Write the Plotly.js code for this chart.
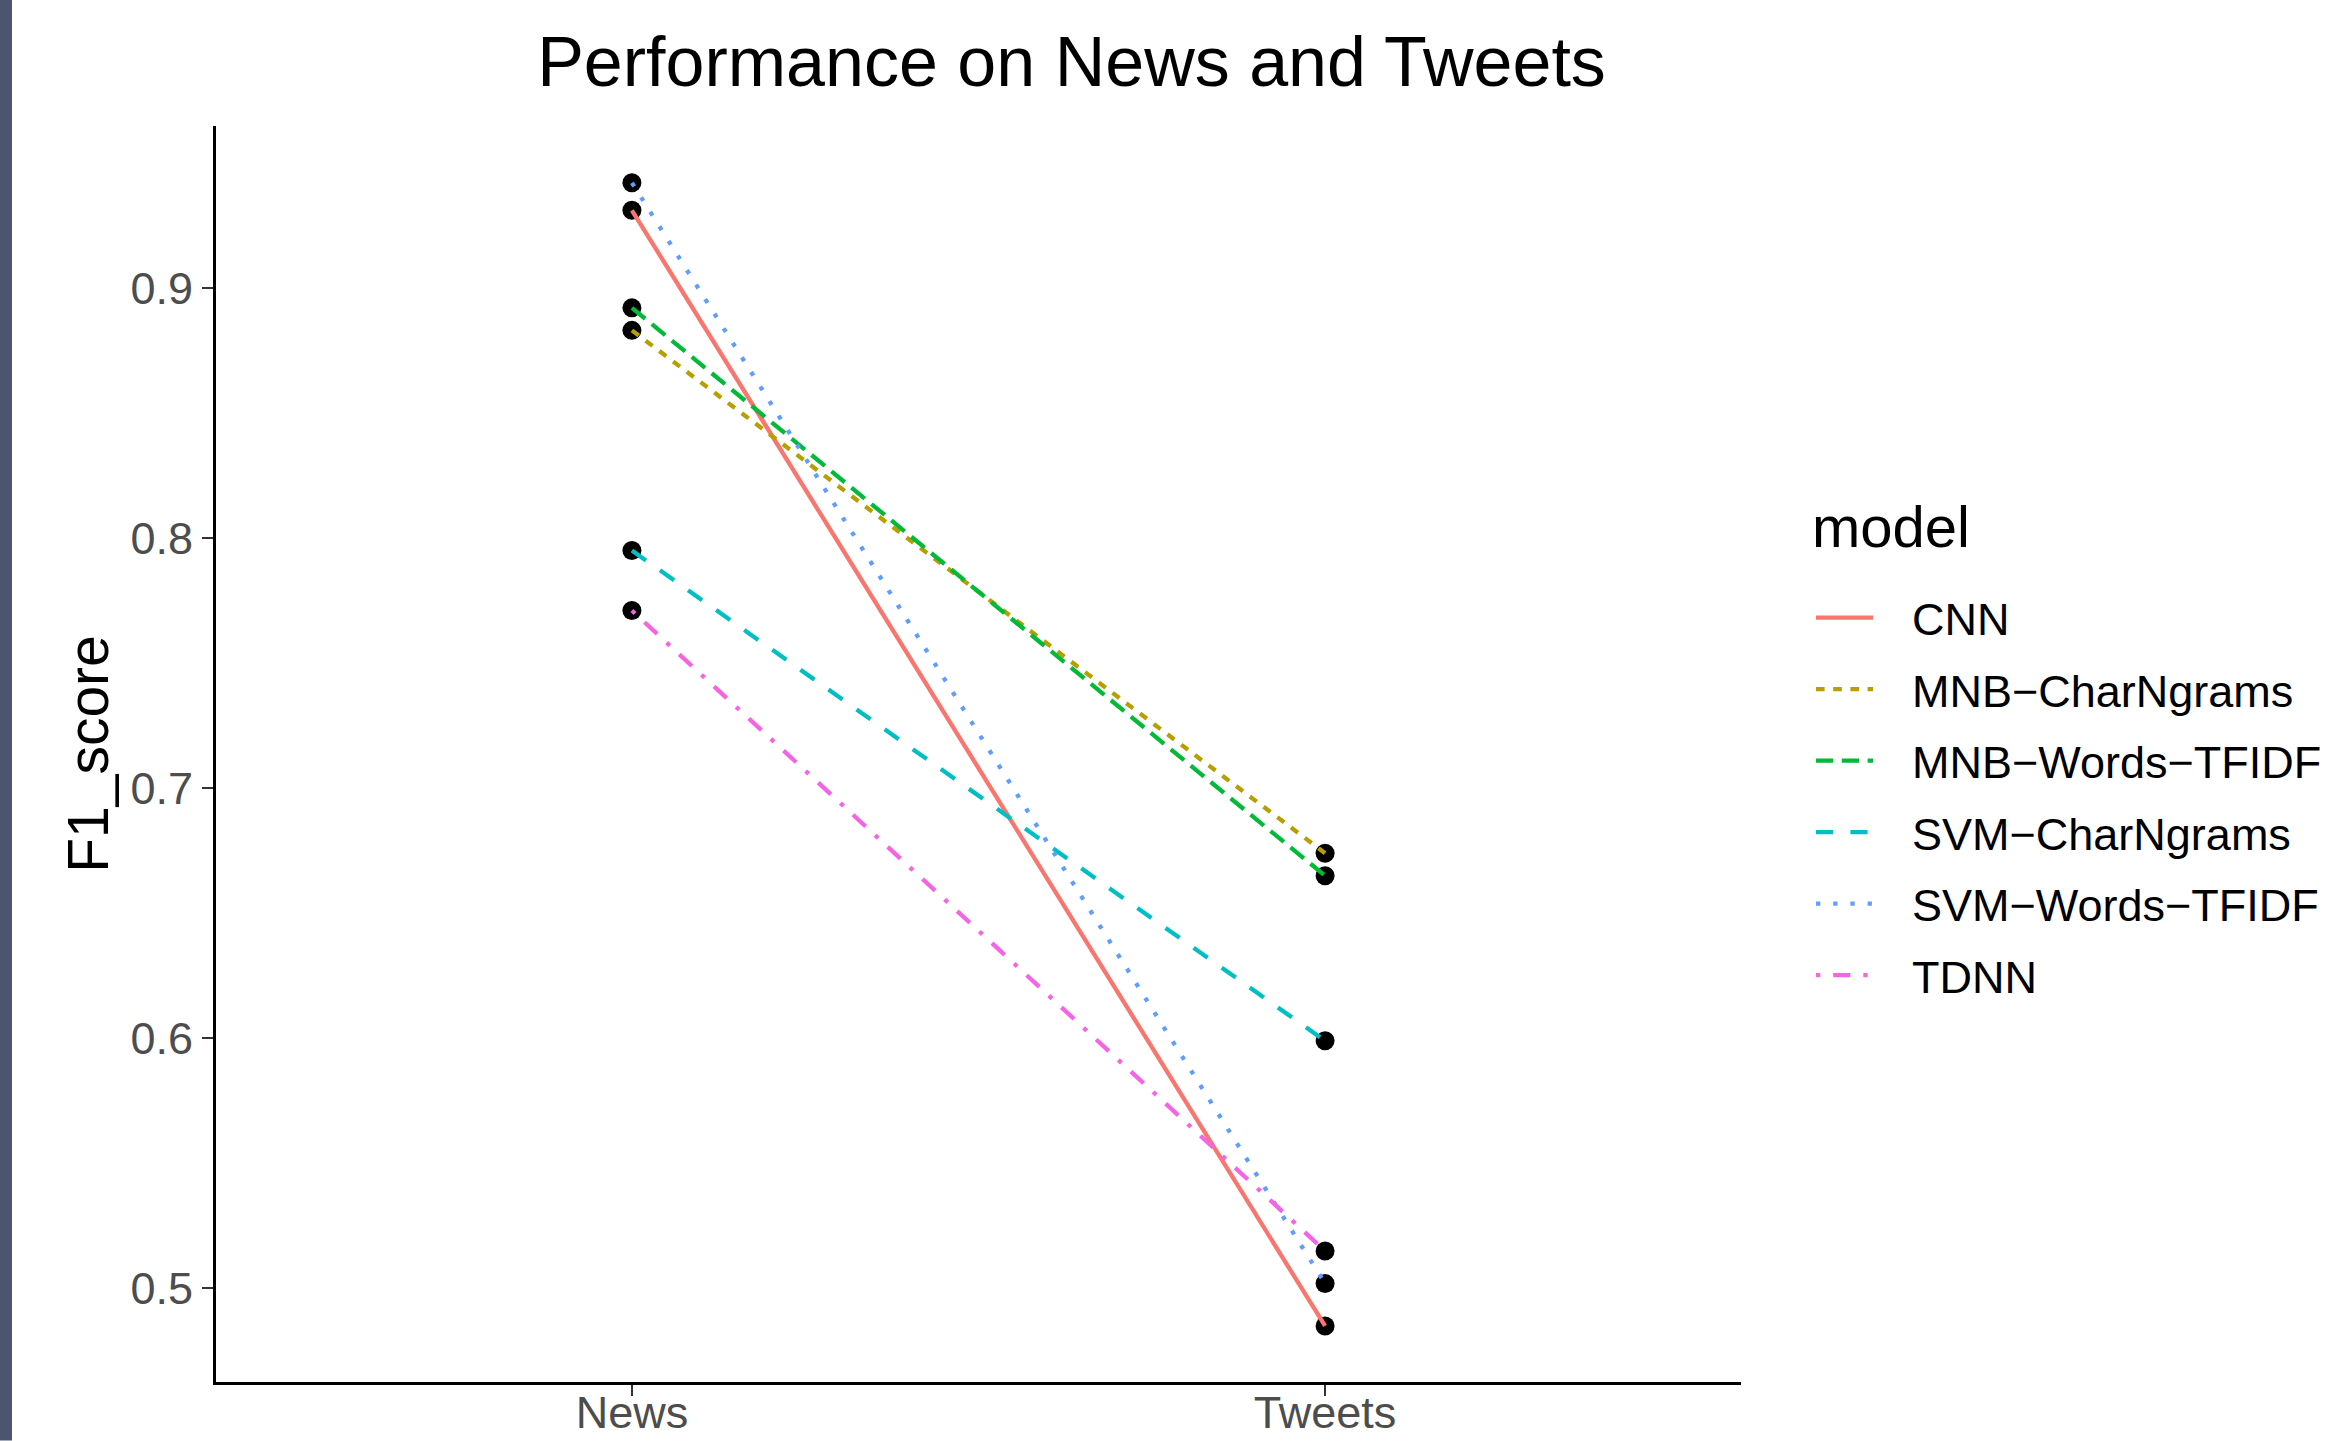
<!DOCTYPE html>
<html>
<head>
<meta charset="utf-8">
<script src="https://cdn.plot.ly/plotly-3.0.1.min.js"></script>
<style>html,body{margin:0;padding:0;background:#fff;}#chart{width:2326px;height:1441px;}</style>
</head>
<body>
<div id="chart"></div>
<script>
const categories = ['News', 'Tweets'];
const models = ['CNN', 'MNB-CharNgrams', 'MNB-Words-TFIDF', 'SVM-CharNgrams', 'SVM-Words-TFIDF', 'TDNN'];
const newsScores = [0.931, 0.883, 0.892, 0.795, 0.942, 0.771];
const tweetsScores = [0.485, 0.674, 0.665, 0.599, 0.502, 0.515];
const colors = ['#F8766D', '#B79F00', '#00BA38', '#00BFC4', '#619CFF', '#F564E3'];
const dashes = ['solid', '8.6px,8.6px', '17.2px,8.6px', '17.2px,17.2px', '4.3px,12.9px', '4.3px,12.9px,17.2px,12.9px'];
const yTicks = [0.5, 0.6, 0.7, 0.8, 0.9];

const FONT = 'Liberation Sans, Arial, Helvetica, sans-serif';
const traces = [];
models.forEach((m, i) => {
  traces.push({
    type: 'scatter', mode: 'markers', x: categories, y: [newsScores[i], tweetsScores[i]],
    marker: {color: '#000000', size: 19}, showlegend: false, hoverinfo: 'skip'
  });
});
models.forEach((m, i) => {
  traces.push({
    type: 'scatter', mode: 'lines', name: '\u00A0\u00A0\u2009' + m.replace(/-/g, '\u2212'),
    x: categories, y: [newsScores[i], tweetsScores[i]],
    line: {color: colors[i], width: 4.3, dash: dashes[i]},
    legendgroup: 'g' + i
  });
});

const layout = {
  width: 2326, height: 1441,
  paper_bgcolor: '#ffffff', plot_bgcolor: '#ffffff',
  font: {family: FONT, color: '#000000'},
  margin: {l: 216, r: 585, t: 126, b: 58.5, pad: 0, autoexpand: false},
  title: {text: 'Performance on News and Tweets', font: {family: FONT, size: 70, color: '#000000'},
          xref: 'paper', x: 0.561, xanchor: 'center', yref: 'container', y: 0.957, yanchor: 'middle'},
  xaxis: {
    type: 'category', categoryorder: 'array', categoryarray: categories,
    range: [-0.6, 1.6], showgrid: false, zeroline: false,
    showline: true, linecolor: '#000000', linewidth: 3,
    ticks: 'outside', ticklen: 11, tickwidth: 2, tickcolor: '#333333',
    ticklabelstandoff: -22,
    tickfont: {family: FONT, size: 45, color: '#4D4D4D'}
  },
  yaxis: {
    range: [0.4626, 0.9647], tickvals: yTicks, ticktext: yTicks.map(v => v.toFixed(1)),
    showgrid: false, zeroline: false,
    showline: true, linecolor: '#000000', linewidth: 3,
    ticks: 'outside', ticklen: 11, tickwidth: 2, tickcolor: '#333333',
    tickfont: {family: FONT, size: 45, color: '#4D4D4D'},
    title: {text: 'F1_score', font: {family: FONT, size: 57, color: '#000000'}, standoff: 4}
  },
  showlegend: true,
  legend: {
    font: {family: FONT, size: 45, color: '#000000'},
    x: (1811 - 216) / 1525, xanchor: 'left', y: 0.637, yanchor: 'top',
    traceorder: 'grouped', tracegroupgap: 10, itemwidth: 57,
    bgcolor: 'rgba(0,0,0,0)'
  },
  annotations: [{text: 'model', xref: 'paper', yref: 'paper', x: (1810 - 216) / 1525, xanchor: 'left',
                 y: (1382.5 - 527) / 1256.5, yanchor: 'middle', showarrow: false,
                 font: {family: FONT, size: 58, color: '#000000'}}],
  shapes: [{type: 'rect', xref: 'paper', yref: 'paper', x0: -216/1525, x1: -204/1525, y0: -58.5/1256.5, y1: 1 + 126/1256.5,
            fillcolor: '#4B5570', line: {width: 0}, layer: 'below'}]
};

Plotly.newPlot('chart', traces, layout, {displayModeBar: false, staticPlot: true});
</script>
</body>
</html>
